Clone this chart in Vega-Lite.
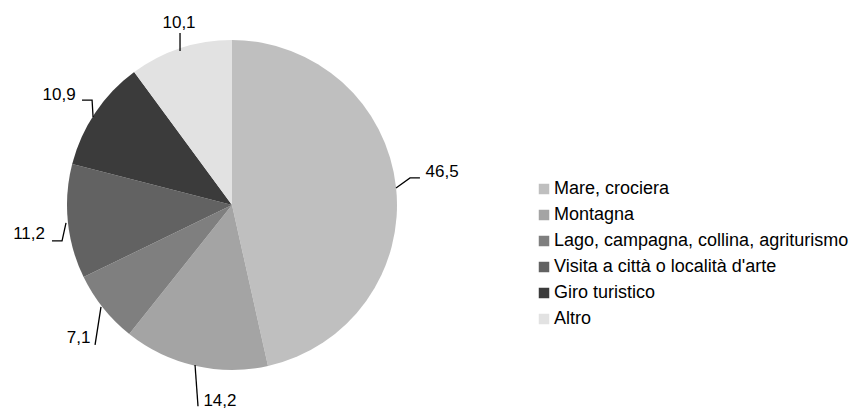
{
  "$schema": "https://vega.github.io/schema/vega-lite/v6.json",
  "width": 859,
  "height": 411,
  "padding": 0,
  "autosize": {"type": "none"},
  "background": "white",
  "config": {"view": {"stroke": null}, "font": "Liberation Sans"},
  "datasets": {
    "slices": [
      {"categoria": "Mare, crociera", "valore": 46.5, "ordine": 1},
      {"categoria": "Montagna", "valore": 14.2, "ordine": 2},
      {"categoria": "Lago, campagna, collina, agriturismo", "valore": 7.1, "ordine": 3},
      {"categoria": "Visita a città o località d'arte", "valore": 11.2, "ordine": 4},
      {"categoria": "Giro turistico", "valore": 10.9, "ordine": 5},
      {"categoria": "Altro", "valore": 10.1, "ordine": 6}
    ],
    "leaders": [
      {"id": "a", "p": 1, "x": 0.994, "y": 0.103},
      {"id": "a", "p": 2, "x": 1.079, "y": 0.164},
      {"id": "a", "p": 3, "x": 1.139, "y": 0.164},
      {"id": "b", "p": 1, "x": -0.224, "y": -0.970},
      {"id": "b", "p": 2, "x": -0.206, "y": -1.220},
      {"id": "c", "p": 1, "x": -0.794, "y": -0.618},
      {"id": "c", "p": 2, "x": -0.830, "y": -0.848},
      {"id": "d", "p": 1, "x": -1.006, "y": -0.109},
      {"id": "d", "p": 2, "x": -1.030, "y": -0.218},
      {"id": "d", "p": 3, "x": -1.091, "y": -0.218},
      {"id": "e", "p": 1, "x": -0.842, "y": 0.533},
      {"id": "e", "p": 2, "x": -0.848, "y": 0.636},
      {"id": "e", "p": 3, "x": -0.909, "y": 0.636},
      {"id": "f", "p": 1, "x": -0.315, "y": 0.933},
      {"id": "f", "p": 2, "x": -0.315, "y": 1.042}
    ],
    "labels": [
      {"testo": "46,5", "x": 1.273, "y": 0.200},
      {"testo": "14,2", "x": -0.073, "y": -1.185},
      {"testo": "7,1", "x": -0.930, "y": -0.806},
      {"testo": "11,2", "x": -1.230, "y": -0.176},
      {"testo": "10,9", "x": -1.048, "y": 0.667},
      {"testo": "10,1", "x": -0.321, "y": 1.103}
    ]
  },
  "layer": [
    {
      "data": {"name": "slices"},
      "mark": {"type": "arc", "outerRadius": 165},
      "encoding": {
        "x": {"datum": 0, "type": "quantitative", "scale": {"domain": [-1.40606, 3.8]}, "axis": null},
        "y": {"datum": 0, "type": "quantitative", "scale": {"domain": [-1.2485, 1.2424]}, "axis": null},
        "theta": {"field": "valore", "type": "quantitative", "stack": true},
        "order": {"field": "ordine", "type": "quantitative"},
        "color": {
          "field": "categoria",
          "type": "nominal",
          "sort": null,
          "scale": {
            "domain": ["Mare, crociera", "Montagna", "Lago, campagna, collina, agriturismo", "Visita a città o località d'arte", "Giro turistico", "Altro"],
            "range": ["#bfbfbf", "#a4a4a4", "#7f7f7f", "#626262", "#3b3b3b", "#e2e2e2"]
          },
          "legend": {
            "title": null,
            "orient": "none",
            "legendX": 535,
            "legendY": 180,
            "symbolType": "square",
            "symbolSize": 110,
            "symbolStrokeWidth": 0,
            "labelFontSize": 18,
            "labelFont": "Liberation Sans",
            "labelColor": "#000000",
            "labelOffset": 1,
            "labelLimit": 0,
            "rowPadding": 8,
            "padding": 0
          }
        }
      }
    },
    {
      "data": {"name": "leaders"},
      "mark": {"type": "line", "color": "#000000", "strokeWidth": 1.3},
      "encoding": {
        "x": {"field": "x", "type": "quantitative", "scale": {"domain": [-1.40606, 3.8]}, "axis": null},
        "y": {"field": "y", "type": "quantitative", "scale": {"domain": [-1.2485, 1.2424]}, "axis": null},
        "detail": {"field": "id", "type": "nominal"},
        "order": {"field": "p", "type": "quantitative"}
      }
    },
    {
      "data": {"name": "labels"},
      "mark": {"type": "text", "fontSize": 17, "font": "Liberation Sans", "color": "#000000", "baseline": "middle", "align": "center"},
      "encoding": {
        "x": {"field": "x", "type": "quantitative", "scale": {"domain": [-1.40606, 3.8]}, "axis": null},
        "y": {"field": "y", "type": "quantitative", "scale": {"domain": [-1.2485, 1.2424]}, "axis": null},
        "text": {"field": "testo", "type": "nominal"}
      }
    }
  ]
}
